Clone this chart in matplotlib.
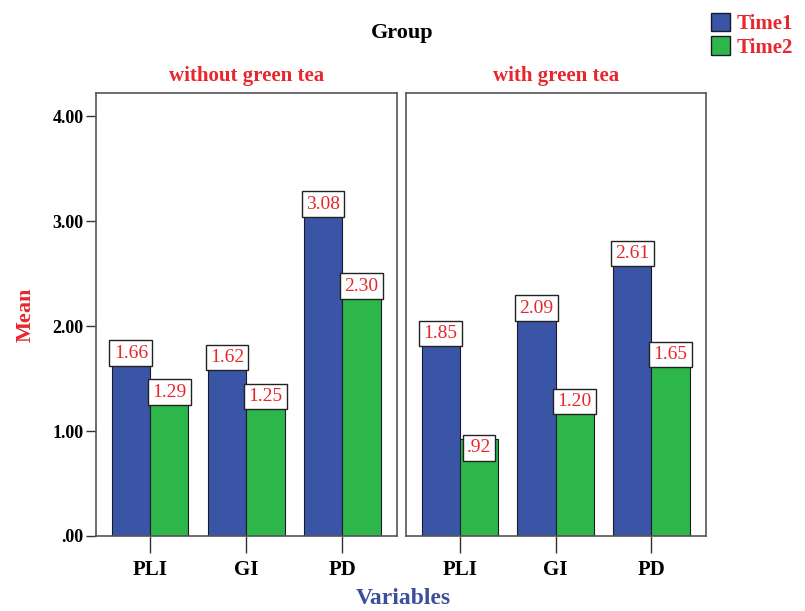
import matplotlib.pyplot as plt
import numpy as np
from matplotlib.patches import Patch
from matplotlib.ticker import FuncFormatter

plt.rcParams['font.family'] = ['Liberation Serif', 'DejaVu Serif']

variables = ["PLI", "GI", "PD"]
groups = ["without green tea", "with green tea"]
time1 = [[1.66, 1.62, 3.08], [1.85, 2.09, 2.61]]
time2 = [[1.29, 1.25, 2.30], [0.92, 1.20, 1.65]]
series_names = ["Time1", "Time2"]

blue = "#3b55a6"
green = "#2db64a"
red = "#e8262d"


def fmt(v, pos=None):
    s = "%.2f" % v
    if s.startswith("0"):
        s = s[1:]
    return s


fig = plt.figure(figsize=(8.05, 6.11), dpi=100)
ax1 = fig.add_axes([96 / 805, 75 / 611, 301 / 805, 443 / 611])
ax2 = fig.add_axes([406 / 805, 75 / 611, 300 / 805, 443 / 611])

x = np.arange(len(variables))
w = 0.4
for i, ax in enumerate([ax1, ax2]):
    ax.bar(x - w / 2, time1[i], w, color=blue, edgecolor="#1a1a2a", linewidth=0.8)
    ax.bar(x + w / 2, time2[i], w, color=green, edgecolor="#1a1a2a", linewidth=0.8)
    ax.set_xlim(-0.5625, 2.57)
    ax.set_ylim(0, 4.22)
    ax.set_xticks(x)
    ax.set_xticklabels(variables, fontsize=15, fontweight="bold")
    ax.tick_params(axis="x", length=12, width=1, color="#333333", pad=5)
    for sp in ax.spines.values():
        sp.set_color("#555555")
        sp.set_linewidth(1.2)
    ax.set_title(groups[i], color=red, fontsize=15, fontweight="bold", pad=9)
    # value labels
    for xs, vals in [(x - w / 2, time1[i]), (x + w / 2, time2[i])]:
        for xx, v in zip(xs, vals):
            va = "bottom" if v >= 1 else "top"
            ax.text(xx, v, fmt(v), ha="center", va=va, color=red, fontsize=14,
                    bbox=dict(boxstyle="square,pad=0.22", fc="white", ec="#222222", lw=1))

ax1.set_yticks([0, 1, 2, 3, 4])
ax1.yaxis.set_major_formatter(FuncFormatter(fmt))
ax1.tick_params(axis="y", length=7, width=1, color="#333333", labelsize=13, pad=2)
for lab in ax1.get_yticklabels():
    lab.set_fontweight("bold")
ax1.set_ylabel("Mean", color=red, fontsize=16, fontweight="bold", labelpad=12)
ax2.set_yticks([])

fig.text(402 / 805, 1 - 33 / 611, "Group", fontsize=16, fontweight="bold", ha="center", va="center")
fig.text(403 / 805, 1 - 599 / 611, "Variables", color="#3d4f9a", fontsize=17,
         fontweight="bold", ha="center", va="center")

handles = [Patch(facecolor=blue, edgecolor="#1a1a2a"), Patch(facecolor=green, edgecolor="#1a1a2a")]
leg = fig.legend(handles, series_names, loc="upper right", bbox_to_anchor=(1.008, 1.01),
                 frameon=False, handlelength=0.9, handleheight=1.0, handletextpad=0.3,
                 labelspacing=0.1, prop={"weight": "bold", "size": 15})
for t in leg.get_texts():
    t.set_color(red)

fig.savefig("out.png", dpi=100)
